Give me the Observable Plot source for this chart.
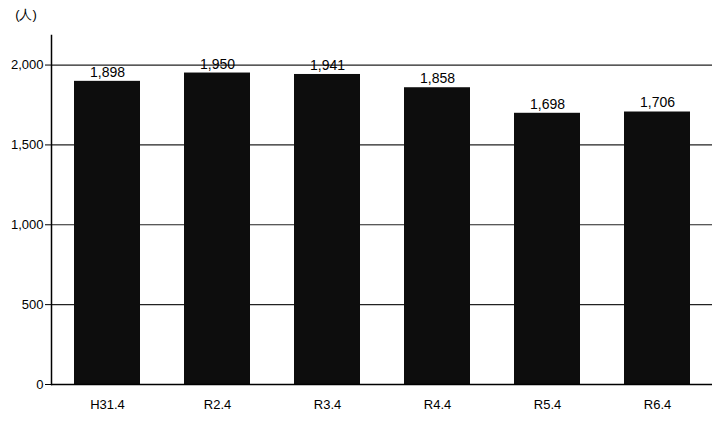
<!DOCTYPE html>
<html>
<head>
<meta charset="utf-8">
<script src="https://cdn.jsdelivr.net/npm/d3@7"></script>
<script src="https://cdn.jsdelivr.net/npm/@observablehq/plot@0.6"></script>
<style>
  html, body { margin: 0; padding: 0; background: #fff; }
  svg { font-family: Arial, "Liberation Sans", sans-serif; }
</style>
</head>
<body>
<div id="chart"></div>
<script>
const categories = ["H31.4", "R2.4", "R3.4", "R4.4", "R5.4", "R6.4"];
const values = [1898, 1950, 1941, 1858, 1698, 1706];
const yTicks = [0, 500, 1000, 1500, 2000];
const yUnit = "(人)";

const data = categories.map((c, i) => ({ year: c, value: values[i] }));

const chart = Plot.plot({
  width: 716,
  height: 427,
  marginTop: 35,
  marginBottom: 43,
  marginLeft: 51,
  marginRight: 4,
  style: { fontFamily: "Arial, 'Liberation Sans', sans-serif", fontSize: "13px", color: "#000", background: "#fff" },
  x: { domain: categories, paddingInner: 0.4, paddingOuter: 0.19, label: null },
  y: { domain: [0, 2185], label: null },
  marks: [
    Plot.ruleY(yTicks.filter(d => d > 0), { stroke: "#222", strokeWidth: 1.2 }),
    Plot.barY(data, { x: "year", y: "value", fill: "#0d0d0d" }),
    Plot.text(data, { x: "year", y: "value", text: d => d3.format(",")(d.value), dy: -9, fontSize: 14, fill: "#000" }),
    Plot.ruleY([0], { stroke: "#000", strokeWidth: 1.5 }),
    Plot.axisY({ ticks: yTicks, tickFormat: d3.format(","), tickSize: 6, tickPadding: 2, fontSize: 13, stroke: "#000", label: null }),
    Plot.axisX({ tickSize: 0, tickPadding: 15, fontSize: 13, label: null }),
    Plot.frame({ anchor: "left", stroke: "#000", strokeWidth: 1.5 })
  ]
});

// unit label above y axis
const svg = d3.select(chart);
svg.append("text")
  .attr("x", 26).attr("y", 19)
  .attr("text-anchor", "middle")
  .attr("font-size", 13)
  .attr("fill", "#000")
  .text(yUnit);

document.getElementById("chart").appendChild(chart);
</script>
</body>
</html>
